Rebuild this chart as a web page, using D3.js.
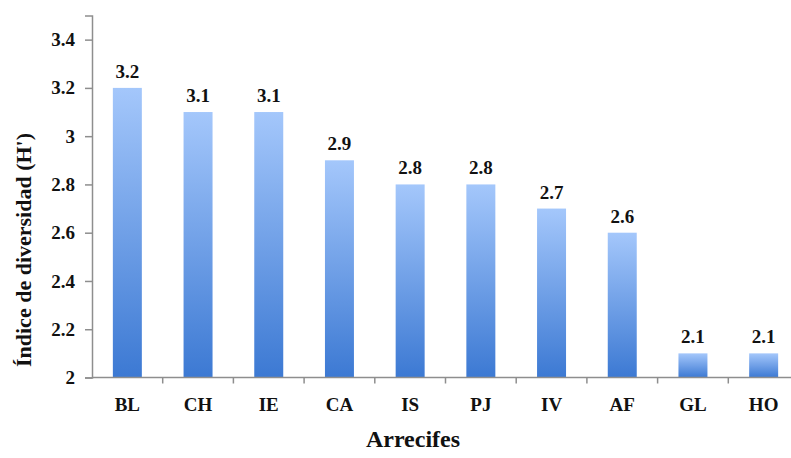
<!DOCTYPE html>
<html>
<head>
<meta charset="utf-8">
<script src="https://cdn.jsdelivr.net/npm/d3@7"></script>
<style>
  html, body { margin: 0; padding: 0; background: #fff; }
  svg { display: block; }
</style>
</head>
<body>
<svg id="chart" width="791" height="458"></svg>
<script>
// Reef sites and their Shannon diversity index (H')
const categories = ["BL", "CH", "IE", "CA", "IS", "PJ", "IV", "AF", "GL", "HO"];
const values = [3.2, 3.1, 3.1, 2.9, 2.8, 2.8, 2.7, 2.6, 2.1, 2.1];
const yTicks = [2, 2.2, 2.4, 2.6, 2.8, 3, 3.2, 3.4];
const yTitle = "Índice de diversidad (H')";
const xTitle = "Arrecifes";

const FONT = "Liberation Serif";

const svg = d3.select("#chart");
const W = 791;
const plotLeft = 92, plotRight = 799, plotTop = 15.5, plotBottom = 377.5;

const y = d3.scaleLinear().domain([2, 3.5]).range([plotBottom, plotTop]);
const x = d3.scaleBand().domain(categories).range([plotLeft, plotRight])
  .paddingInner(0.59).paddingOuter(0.295);

// vertical gradient used by every bar
const defs = svg.append("defs");
const grad = defs.append("linearGradient").attr("id", "barGrad")
  .attr("x1", 0).attr("y1", 0).attr("x2", 0).attr("y2", 1);
grad.append("stop").attr("offset", "0%").attr("stop-color", "#a4c7fb");
grad.append("stop").attr("offset", "100%").attr("stop-color", "#3c79d3");

// bars
svg.append("g").selectAll("rect").data(categories).join("rect")
  .attr("x", d => x(d))
  .attr("y", (d, i) => y(values[i]))
  .attr("width", x.bandwidth())
  .attr("height", (d, i) => y(2) - y(values[i]))
  .attr("fill", "url(#barGrad)");

// shared text styling
function styleText(sel, size) {
  sel.attr("font-family", FONT).attr("font-weight", "bold")
     .attr("font-size", size).attr("fill", "#111");
}

// value labels above bars
svg.append("g").selectAll("text").data(categories).join("text")
  .attr("x", d => x(d) + x.bandwidth() / 2)
  .attr("y", (d, i) => y(values[i]) - 10)
  .attr("text-anchor", "middle")
  .call(styleText, 19)
  .text((d, i) => values[i]);

const axisColor = "#8e8e8e";

// y axis
const yAxis = svg.append("g").attr("transform", `translate(${plotLeft},0)`)
  .call(d3.axisLeft(y).tickValues(yTicks).tickSize(7).tickPadding(10)
    .tickFormat(d => String(+d.toFixed(1))));
yAxis.select(".domain").attr("stroke", axisColor).attr("stroke-width", 1.5);
yAxis.selectAll(".tick line").attr("stroke", axisColor).attr("stroke-width", 1.5);
yAxis.selectAll(".tick text").call(styleText, 19);

// x axis baseline
svg.append("line")
  .attr("x1", plotLeft).attr("x2", W)
  .attr("y1", y(2)).attr("y2", y(2))
  .attr("stroke", axisColor).attr("stroke-width", 1.5);

// category boundary ticks
const step = x.step();
svg.append("g").selectAll("line").data(categories.slice(1)).join("line")
  .attr("x1", d => x(d) + x.bandwidth() / 2 - step / 2)
  .attr("x2", d => x(d) + x.bandwidth() / 2 - step / 2)
  .attr("y1", y(2)).attr("y2", y(2) + 6)
  .attr("stroke", axisColor).attr("stroke-width", 1.5);

// category labels
svg.append("g").selectAll("text").data(categories).join("text")
  .attr("x", d => x(d) + x.bandwidth() / 2)
  .attr("y", 411)
  .attr("text-anchor", "middle")
  .call(styleText, 19)
  .text(d => d);

// axis titles
svg.append("text")
  .attr("transform", "translate(31,250) rotate(-90)")
  .attr("text-anchor", "middle")
  .call(styleText, 22)
  .text(yTitle);

svg.append("text")
  .attr("x", 413).attr("y", 447)
  .attr("text-anchor", "middle")
  .call(styleText, 24)
  .text(xTitle);
</script>
</body>
</html>
